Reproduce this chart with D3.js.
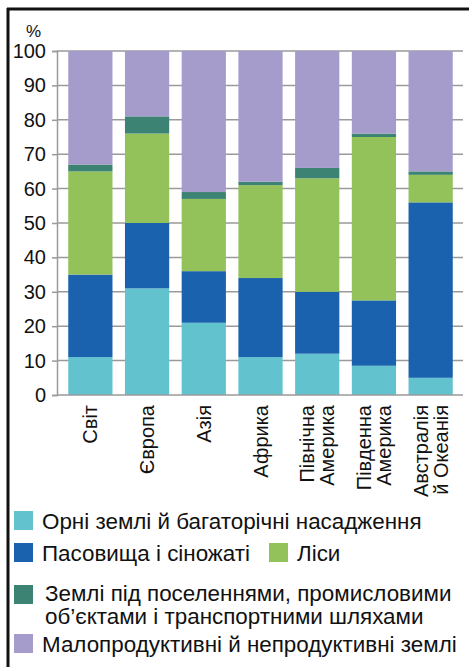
<!DOCTYPE html>
<html>
<head>
<meta charset="utf-8">
<script src="https://cdn.jsdelivr.net/npm/d3@7"></script>
<style>
	body { margin: 0; background: #fff; }
	svg { display: block; font-family: "Liberation Sans", Arial, sans-serif; }
</style>
</head>
<body>
<div id="chart"></div>
<script>
// Regions (each label split into lines)
var regions = [['Світ'], ['Європа'], ['Азія'], ['Африка'], ['Північна', 'Америка'], ['Південна', 'Америка'], ['Австралія', 'й Океанія']];
// Land use shares, %
var arable = [11, 31, 21, 11, 12, 8.5, 5];
var pasture = [24, 19, 15, 23, 18, 19, 51];
var forest = [30, 26, 21, 27, 33, 47.5, 8];
var settled = [2, 5, 2, 1, 3, 1, 1];
var barren = [33, 19, 41, 38, 34, 24, 35];
var yTicks = [0, 10, 20, 30, 40, 50, 60, 70, 80, 90, 100];

var colors = ['#62c3cf', '#1a62ad', '#93c15a', '#3d8373', '#a69ccc'];

var svg = d3.select('#chart').append('svg')
	.attr('width', 469).attr('height', 667);

// Frame (left and top only, the rest is cut off)
svg.append('line').attr('x1', 8).attr('y1', 8).attr('x2', 8).attr('y2', 667)
	.style('stroke', '#111').style('stroke-width', 3);
svg.append('line').attr('x1', 7).attr('y1', 9).attr('x2', 469).attr('y2', 9)
	.style('stroke', '#111').style('stroke-width', 3);

var x = d3.scaleBand().domain(d3.range(regions.length)).range([62, 459]).paddingInner(0.22).paddingOuter(0.11);
var y = d3.scaleLinear().domain([0, 100]).range([395, 51]);

// Grid
svg.append('g').selectAll('line').data(yTicks.slice(1)).enter().append('line')
	.attr('x1', 57).attr('x2', 463).attr('y1', d => y(d)).attr('y2', d => y(d))
	.style('stroke', '#9a9a9a').style('stroke-width', 1.5);

// Y axis
var yAxis = svg.append('g').attr('transform', 'translate(57,0)')
	.call(d3.axisLeft(y).tickValues(yTicks).tickSize(5).tickPadding(6));
yAxis.select('.domain').style('stroke', '#9a9a9a').style('stroke-width', 1.5);
yAxis.selectAll('.tick line').style('stroke', '#9a9a9a').style('stroke-width', 1.5);
yAxis.selectAll('text').style('font-size', '20px').style('fill', '#111').style('font-family', null);

svg.append('text').attr('x', 26).attr('y', 37).text('%')
	.style('font-size', '17px').style('fill', '#111');

// Stacked bars
var rows = regions.map((r, i) => ({ i: i, a: arable[i], p: pasture[i], f: forest[i], s: settled[i], b: barren[i] }));
var stack = d3.stack().keys(['a', 'p', 'f', 's', 'b'])(rows);
svg.append('g').selectAll('g').data(stack).enter().append('g')
	.style('fill', (d, k) => colors[k])
	.selectAll('rect').data(d => d).enter().append('rect')
	.attr('x', d => x(d.data.i)).attr('width', x.bandwidth())
	.attr('y', d => y(d[1])).attr('height', d => y(d[0]) - y(d[1]));

// Bottom axis line
svg.append('line').attr('x1', 57).attr('x2', 463).attr('y1', y(0)).attr('y2', y(0))
	.style('stroke', '#9a9a9a').style('stroke-width', 1.5);

// Rotated category labels
regions.forEach((lines, i) => {
	var cx = x(i) + x.bandwidth() / 2;
	var n = lines.length;
	lines.forEach((t, j) => {
		var bx = cx + 7 + (j - (n - 1) / 2) * 20;
		svg.append('text')
			.attr('transform', 'translate(' + bx + ',405) rotate(-90)')
			.attr('text-anchor', 'end')
			.style('font-size', '20px').style('fill', '#111')
			.text(t);
	});
});

// Legend
var legend = [
	{ k: 0, x: 14, y: 511, base: [529], lines: ['Орні землі й багаторічні насадження'] },
	{ k: 1, x: 14, y: 543, base: [561], lines: ['Пасовища і сіножаті'] },
	{ k: 2, x: 269, y: 543, base: [561], lines: ['Ліси'] },
	{ k: 3, x: 14, y: 585, base: [601, 624], lines: ['Землі під поселеннями, промисловими', 'об’єктами і транспортними шляхами'] },
	{ k: 4, x: 14, y: 634, base: [652], lines: ['Малопродуктивні й непродуктивні землі'] }
];
legend.forEach(l => {
	svg.append('rect').attr('x', l.x).attr('y', l.y).attr('width', 19).attr('height', 19)
		.style('fill', colors[l.k]);
	l.lines.forEach((t, j) => {
		svg.append('text').attr('x', l.x + 28 + (l.k == 3 ? 3 : 0)).attr('y', l.base[j])
			.style('font-size', '22.4px').style('fill', '#111')
			.text(t);
	});
});
</script>
</body>
</html>
